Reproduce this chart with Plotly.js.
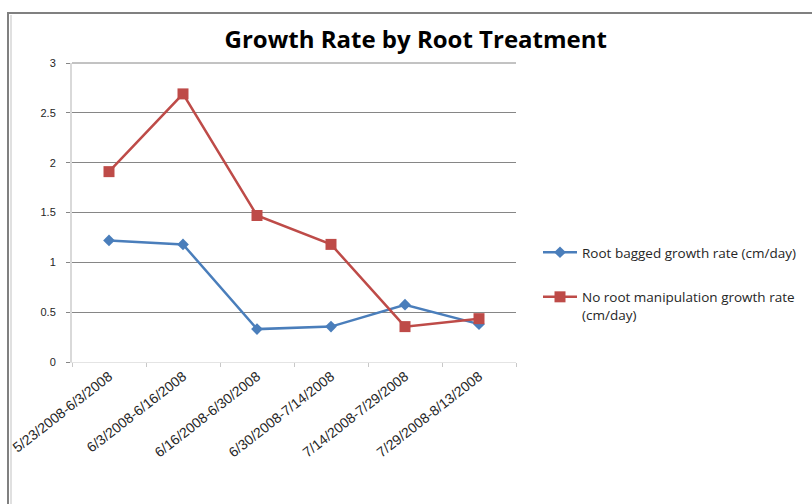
<!DOCTYPE html>
<html>
<head>
<meta charset="utf-8">
<script src="https://cdn.plot.ly/plotly-3.0.1.min.js"></script>
<style>html,body{margin:0;padding:0;background:#fff;}#chart{width:812px;height:504px;}</style>
</head>
<body>
<div id="chart"></div>
<script>
const categories = ["5/23/2008-6/3/2008","6/3/2008-6/16/2008","6/16/2008-6/30/2008","6/30/2008-7/14/2008","7/14/2008-7/29/2008","7/29/2008-8/13/2008"];
const rootBagged = [1.22, 1.18, 0.33, 0.355, 0.575, 0.38];
const noRootManipulation = [1.91, 2.69, 1.47, 1.18, 0.355, 0.435];
const seriesNames = ["Root bagged growth rate (cm/day)", "No root manipulation growth rate<br>(cm/day)"];
const yTicks = [0, 0.5, 1, 1.5, 2, 2.5, 3];

const L = 72, R = 516, T = 63, B = 362;
const px2x = p => (p - L) / (R - L);
const px2y = p => (B - p) / (B - T);

const traces = [
  {x: categories, y: rootBagged, name: seriesNames[0], legendgroup: "g1", type: "scatter", mode: "lines+markers",
   line: {color: "#4a7ebb", width: 2.5}, marker: {symbol: "diamond", size: 9, color: "#4a7ebb"}},
  {x: categories, y: noRootManipulation, name: seriesNames[1], legendgroup: "g2", type: "scatter", mode: "lines+markers",
   line: {color: "#be4b48", width: 2.5}, marker: {symbol: "square", size: 11, color: "#be4b48"}}
];

const layout = {
  width: 812, height: 504,
  margin: {l: L, r: 812 - R, t: T, b: 504 - B, pad: 0},
  paper_bgcolor: "#fff", plot_bgcolor: "#fff",
  font: {family: "Liberation Sans, Arial, sans-serif", size: 11, color: "#262626"},
  title: {text: "<b>Growth Rate by Root Treatment</b>", font: {family: "Open Sans, Liberation Sans, sans-serif", size: 24, color: "#000"},
          xref: "container", x: 0.512, xanchor: "center", yref: "container", y: 1 - 40/504, yanchor: "middle"},
  xaxis: {type: "category", range: [-0.5, 5.5], tickson: "boundaries", ticks: "outside", ticklen: 4, tickcolor: "#c8c8c8",
          showline: true, linecolor: "#e4e4e4", linewidth: 1, showgrid: false, tickangle: -38,
          tickfont: {family: "Liberation Sans, sans-serif", size: 14, color: "#262626"}, fixedrange: true},
  yaxis: {range: [0, 3], tickvals: yTicks, ticktext: yTicks.map(String), ticks: "outside", ticklen: 4, tickcolor: "#868686",
          showline: true, linecolor: "#d9d9d9", linewidth: 2, showgrid: true, gridcolor: "#868686", gridwidth: 1,
          zeroline: false, ticklabelstandoff: 8, tickfont: {size: 11, color: "#262626"}, fixedrange: true},
  legend: {xref: "container", yref: "container", x: 538/812, y: 1 - 237/504, xanchor: "left", yanchor: "top",
           font: {family: "Open Sans, Liberation Sans, sans-serif", size: 13.5, color: "#262626"}, valign: "top",
           tracegroupgap: 24, itemwidth: 34, bgcolor: "rgba(0,0,0,0)"},
  shapes: [
    {type: "line", xref: "paper", yref: "paper", x0: 0, x1: 1, y0: 1, y1: 1, line: {color: "#868686", width: 1}},
    {type: "line", xref: "paper", yref: "paper", x0: px2x(8), x1: px2x(8), y0: px2y(13), y1: px2y(510), line: {color: "#808080", width: 2}},
    {type: "line", xref: "paper", yref: "paper", x0: px2x(7), x1: px2x(815), y0: px2y(13), y1: px2y(13), line: {color: "#808080", width: 2}},
    {type: "line", xref: "paper", yref: "paper", x0: px2x(11), x1: px2x(11), y0: px2y(15), y1: px2y(510), line: {color: "#e0e0e0", width: 2}}
  ],
  showlegend: true
};
Plotly.newPlot("chart", traces, layout, {displayModeBar: false, staticPlot: true});
</script>
</body>
</html>
